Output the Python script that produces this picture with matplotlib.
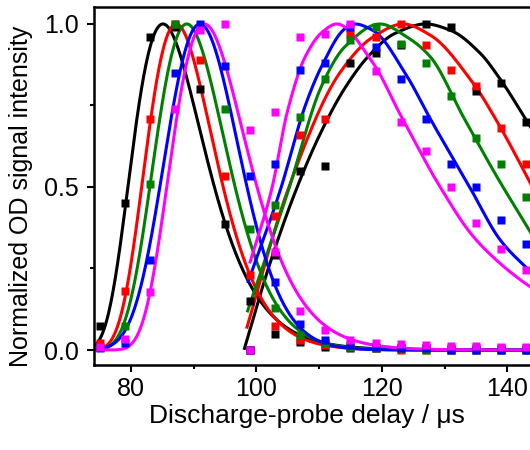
import numpy as np
import matplotlib
matplotlib.use("Agg")
import matplotlib.pyplot as plt
from matplotlib.ticker import MultipleLocator

plt.rcParams['font.family'] = ['Liberation Sans', 'DejaVu Sans']

colors = ['#000000', '#ff0000', '#008000', '#0000ff', '#ff00ff']

# measured delays (us)
x1 = [75, 79, 83, 87, 91, 95, 99, 103, 107, 111, 115, 119, 123, 127, 131, 135, 139, 143]
x2 = [99, 103, 107, 111, 115, 119, 123, 127, 131, 135, 139, 143]

# first pulse, normalized intensity
black1 = [0.074, 0.45, 0.96, 0.99, 0.80, 0.386, 0.15, 0.05, 0.025, 0.01, 0.005, 0.005, 0.005, 0.005, 0.005, 0.005, 0.005, 0.005]
red1 = [0.02, 0.18, 0.71, 1.0, 0.89, 0.535, 0.23, 0.075, 0.03, 0.015, 0.01, 0.005, 0.0, 0.0, 0.0, 0.0, 0.0, 0.0]
green1 = [0.01, 0.074, 0.51, 1.0, 0.99, 0.74, 0.37, 0.13, 0.045, 0.02, 0.01, 0.005, 0.005, 0.0, 0.0, 0.0, 0.0, 0.0]
blue1 = [0.005, 0.02, 0.276, 0.85, 1.0, 0.87, 0.534, 0.21, 0.08, 0.03, 0.015, 0.01, 0.005, 0.005, 0.0, 0.0, 0.0, 0.0]
magenta1 = [0.01, 0.034, 0.178, 0.74, 0.98, 1.0, 0.675, 0.30, 0.12, 0.06, 0.03, 0.02, 0.018, 0.015, 0.012, 0.012, 0.01, 0.01]

# second pulse
black2 = [0.0, 0.29, 0.55, 0.565, 0.88, 0.91, 0.935, 1.0, 0.99, 0.795, 0.82, 0.70]
red2 = [0.0, 0.41, 0.66, 0.71, 0.97, 0.96, 1.0, 0.935, 0.86, 0.81, 0.68, 0.57]
green2 = [0.0, 0.445, 0.715, 0.83, 0.95, 0.99, 0.94, 0.88, 0.78, 0.65, 0.57, 0.47]
blue2 = [0.0, 0.57, 0.86, 0.88, 0.99, 0.93, 0.83, 0.71, 0.57, 0.50, 0.40, 0.325]
magenta2 = [0.0, 0.73, 0.96, 0.97, 1.0, 0.855, 0.70, 0.61, 0.50, 0.39, 0.31, 0.245]

# first pulse fit lines: peak position and half-maximum positions (log-normal shape)
fit1_peak = [85.1, 87.2, 88.9, 91.0, 91.7]
fit1_half_lo = [79.5, 81.7, 83.0, 84.6, 85.7]
fit1_half_hi = [93.3, 94.7, 96.6, 98.5, 100.1]

# second pulse fit lines
fit2_x = [
    [98.1, 102.0, 106.0, 110.0, 114.0, 118.0, 122.0, 127.0, 131.0, 135.7, 138.9, 143.2, 144.0],
    [98.5, 105.0, 113.3, 118.6, 123.4, 127.7, 134.5, 138.4, 143.2, 144.0],
    [98.6, 105.1, 110.4, 114.1, 119.7, 124.0, 127.7, 133.0, 138.4, 142.8, 144.0],
    [98.7, 103.8, 107.8, 110.4, 114.1, 115.7, 118.6, 124.0, 127.7, 134.0, 138.9, 143.2, 144.0],
    [99.0, 102.4, 105.0, 107.8, 110.5, 112.8, 118.6, 123.0, 129.3, 134.5, 138.9, 143.2, 144.0],
]
fit2_y = [
    [0.005, 0.256, 0.475, 0.656, 0.80, 0.904, 0.97, 1.0, 0.98, 0.91, 0.83, 0.70, 0.675],
    [0.07, 0.49, 0.85, 0.96, 1.0, 0.966, 0.82, 0.70, 0.53, 0.50],
    [0.12, 0.49, 0.81, 0.93, 1.0, 0.96, 0.90, 0.715, 0.53, 0.39, 0.352],
    [0.21, 0.49, 0.75, 0.87, 0.985, 1.0, 0.98, 0.84, 0.71, 0.50, 0.337, 0.25, 0.236],
    [0.27, 0.49, 0.736, 0.90, 0.975, 1.0, 0.88, 0.72, 0.50, 0.35, 0.265, 0.20, 0.19],
]

pts1 = [black1, red1, green1, blue1, magenta1]
pts2 = [black2, red2, green2, blue2, magenta2]


def lognormal_line(xp, xl, xr, xs):
    t0 = (xp ** 2 - xl * xr) / (2 * xp - xl - xr)
    w = np.log((xp - t0) / (xl - t0)) / np.sqrt(2 * np.log(2))
    t = np.clip(xs - t0, 1e-6, None)
    return np.exp(-np.log(t / (xp - t0)) ** 2 / (2 * w ** 2))


def smooth_trace(xk, yk, xs):
    # shape-preserving cubic through the traced points
    xk = np.asarray(xk, float)
    yk = np.asarray(yk, float)
    h = np.diff(xk)
    d = np.diff(yk) / h
    m = np.zeros_like(yk)
    m[0], m[-1] = d[0], d[-1]
    for k in range(1, len(xk) - 1):
        if d[k - 1] * d[k] > 0:
            w1 = 2 * h[k] + h[k - 1]
            w2 = h[k] + 2 * h[k - 1]
            m[k] = (w1 + w2) / (w1 / d[k - 1] + w2 / d[k])
    idx = np.clip(np.searchsorted(xk, xs) - 1, 0, len(xk) - 2)
    t = (xs - xk[idx]) / h[idx]
    h00 = 2 * t ** 3 - 3 * t ** 2 + 1
    h10 = t ** 3 - 2 * t ** 2 + t
    h01 = -2 * t ** 3 + 3 * t ** 2
    h11 = t ** 3 - t ** 2
    return (h00 * yk[idx] + h10 * h[idx] * m[idx]
            + h01 * yk[idx + 1] + h11 * h[idx] * m[idx + 1])


fig = plt.figure(figsize=(5.3, 4.5), dpi=100)
ax = fig.add_axes([94 / 530, 85 / 450, 438 / 530, 358 / 450])

xs1 = np.linspace(74.1, 144, 600)
for i, c in enumerate(colors):
    ax.plot(xs1, lognormal_line(fit1_peak[i], fit1_half_lo[i], fit1_half_hi[i], xs1),
            color=c, lw=2.2, zorder=2)
    xs2 = np.linspace(fit2_x[i][0], fit2_x[i][-1], 400)
    ax.plot(xs2, smooth_trace(fit2_x[i], fit2_y[i], xs2), color=c, lw=2.2, zorder=2)

for i, c in enumerate(colors):
    ax.plot(x1, pts1[i], 's', color=c, ms=6, mec='none', zorder=3)
    ax.plot(x2, pts2[i], 's', color=c, ms=6, mec='none', zorder=3)

ax.set_xlim(74.1, 143.95)
ax.set_ylim(-0.046, 1.052)
ax.xaxis.set_major_locator(MultipleLocator(20))
ax.xaxis.set_minor_locator(MultipleLocator(10))
ax.yaxis.set_major_locator(MultipleLocator(0.5))
ax.yaxis.set_minor_locator(MultipleLocator(0.25))
ax.tick_params(which='major', direction='out', length=5, width=1.5, labelsize=18, pad=4)
ax.tick_params(axis='y', which='major', pad=6)
ax.tick_params(which='minor', direction='out', length=3, width=1.5)
ax.spines['right'].set_visible(False)
for s in ['left', 'bottom', 'top']:
    ax.spines[s].set_linewidth(1.8)

ax.set_xlabel('Discharge-probe delay / μs', fontsize=19)
ax.set_ylabel('Normalized OD signal intensity', fontsize=18)
ax.xaxis.set_label_coords(0.487, -0.108)
ax.yaxis.set_label_coords(-0.14, 0.47)

fig.savefig('out.png', dpi=100)
